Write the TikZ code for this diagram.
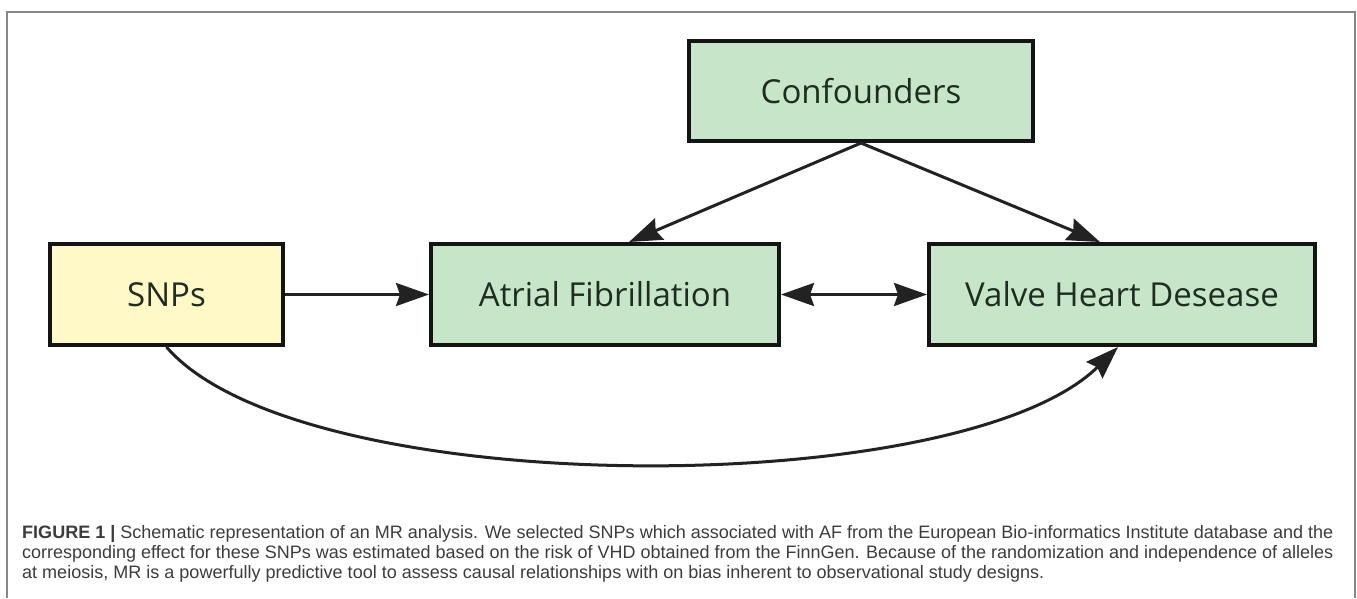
\documentclass[tikz,border=0pt]{standalone}
\usepackage{fontspec}
\usepackage{graphicx}
\setmainfont{Liberation Sans}
\newfontfamily\boxfont{Open Sans}
\usetikzlibrary{arrows.meta}
\definecolor{boxyellow}{RGB}{255,249,200}
\definecolor{boxgreen}{RGB}{199,230,201}
\definecolor{boxtext}{RGB}{30,45,32}
\definecolor{captext}{RGB}{60,60,60}
\definecolor{framegray}{RGB}{135,135,135}
\definecolor{arrowcol}{RGB}{34,34,34}
\newsavebox\capboxA
\newcommand\capfont{\fontsize{18}{20}\selectfont\color{captext}}
\newcommand\capA{\textbf{FIGURE 1 |} Schematic representation of an MR analysis. We selected SNPs which associated with AF from the European Bio-informatics Institute database and the}
\newcommand\capB{corresponding effect for these SNPs was estimated based on the risk of VHD obtained from the FinnGen. Because of the randomization and independence of alleles}
\newcommand\capC{at meiosis, MR is a powerfully predictive tool to assess causal relationships with on bias inherent to observational study designs.}
\begin{document}
\sbox\capboxA{\capfont\capA}%
\pgfmathsetmacro\capsc{1311/\the\wd\capboxA}%
\begin{tikzpicture}[x=1pt,y=-1pt,
  diag/.style={draw=black!92, line width=4pt, minimum height=101pt, inner sep=0pt,
    font=\boxfont\fontsize{33}{40}\selectfont, text=boxtext},
  yellowbox/.style={diag, fill=boxyellow},
  greenbox/.style={diag, fill=boxgreen},
  link/.style={draw=arrowcol, line width=3pt, -{Stealth[length=33pt,width=23pt,inset=4pt]}},
  biglink/.style={draw=arrowcol, line width=3pt, {Stealth[length=33pt,width=23pt,inset=4pt]}-{Stealth[length=33pt,width=23pt,inset=4pt]}},
  capline/.style={anchor=base west, inner sep=0pt, font=\capfont}
]
\useasboundingbox[fill=white] (0,0) rectangle (1357,598);
\draw[framegray, line width=1.5pt] (7,598) -- (7,12) -- (1355,12) -- (1355,598);

\node[greenbox, minimum width=344pt, minimum height=100pt] (conf) at (861,91) {Confounders};
\node[yellowbox, minimum width=233pt] (snps) at (166.5,294.5) {SNPs};
\node[greenbox, minimum width=348pt] (af) at (605,294.5) {Atrial Fibrillation};
\node[greenbox, minimum width=386pt] (vhd) at (1122,294.5) {Valve Heart Desease};

\draw[link] (snps.east) -- (af.west);
\draw[biglink] (af.east) -- (vhd.west);
\draw[link] (conf.south) -- ([xshift=24pt]af.north);
\draw[link] (conf.south) -- ([xshift=-22pt]vhd.north);
\draw[link] (snps.south) .. controls (300,502) and (960,502) .. ([xshift=-4pt]vhd.south);

\node[capline] (cap1) at (22,538) {\resizebox{1311pt}{\height}{\capA}};
\node[capline] (cap2) at (22,558) {\resizebox{1311pt}{\height}{\capB}};
\node[capline] (cap3) at (22,578) {\scalebox{\capsc}[1]{\capC}};
\end{tikzpicture}
\end{document}
